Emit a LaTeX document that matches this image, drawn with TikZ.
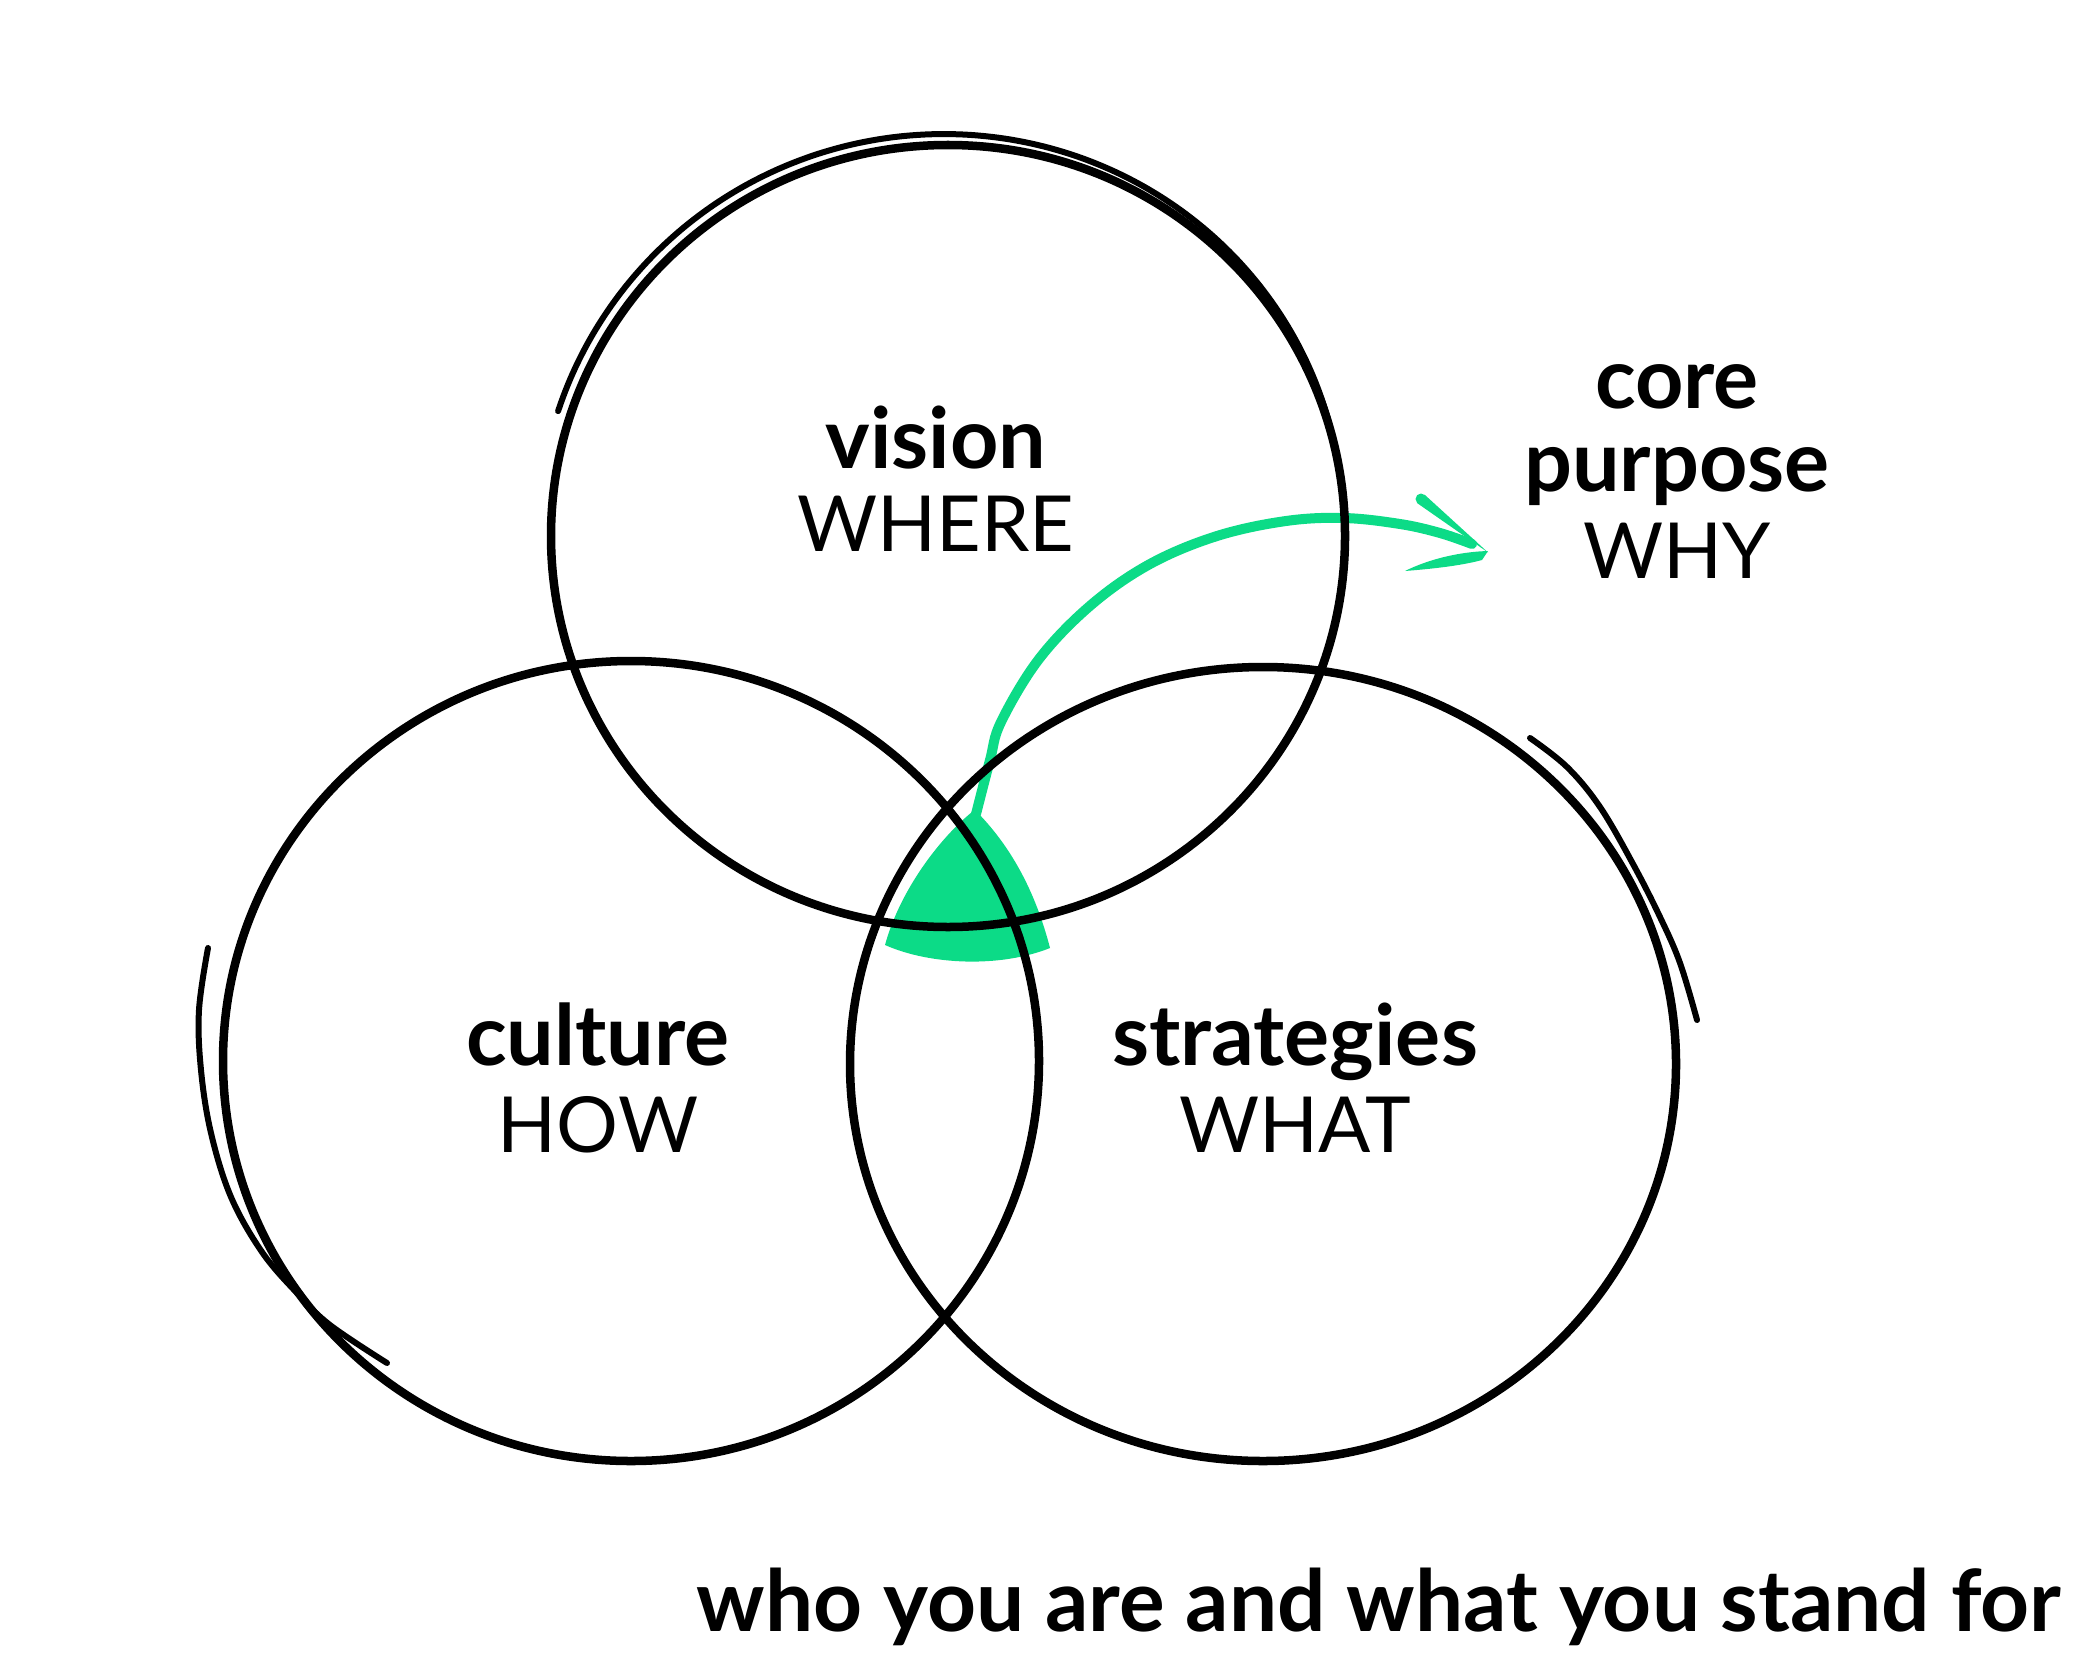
\documentclass[tikz,border=0pt]{standalone}
\usepackage{fontspec}
\setmainfont{Lato}
\newfontfamily\lightf{Lato}
\definecolor{vgreen}{HTML}{0CDB87}
\tikzset{
  ring/.style={draw=black, line width=0.085cm},
  sketch/.style={draw=black, line width=0.06cm, line cap=round},
  greenline/.style={draw=vgreen, line width=0.1cm, line cap=round},
  head/.style={font=\fontsize{24}{29}\selectfont\bfseries, anchor=base, inner sep=0},
  sub/.style={font=\fontsize{22}{27}\selectfont\lightf, anchor=base, inner sep=0},
  tagline/.style={font=\fontsize{24.3}{30}\selectfont\bfseries, anchor=base, inner sep=0},
}
\begin{document}
\begin{tikzpicture}[x=0.01cm,y=-0.01cm]
\useasboundingbox (0,0) rectangle (2083,1667);
% green core
\fill[vgreen] (972,812) .. controls (940,838) and (900,890) .. (885,945)
  .. controls (930,965) and (1000,968) .. (1050,948)
  .. controls (1035,890) and (1010,845) .. (975,810) -- cycle;
% green arrow curve
\draw[greenline] plot[smooth, tension=0.6] coordinates {(976,814) (990,760) (1001,722) (1039,659) (1091,605) (1150,564) (1217,536) (1286,521) (1344,518) (1400,524) (1440,533) (1472,544)};
\fill[vgreen] (1417.4,503.3) -- (1488,552.5) -- (1424.6,494.7) -- cycle;
\fill[vgreen] (1421,499) circle[radius=5.5];
\fill[vgreen] (1488,551) .. controls (1455,552) and (1425,561) .. (1405,571)
  .. controls (1430,569) and (1460,566) .. (1482,560) -- cycle;
% circles
\draw[ring] (948,536) ellipse [x radius=397, y radius=391];
\draw[ring] (631,1061) ellipse [x radius=408, y radius=400];
\draw[ring] (1263,1064) ellipse [x radius=413, y radius=397];
% hand-drawn extra strokes
\draw[sketch] plot[domain=198:348, samples=90, smooth] ({948+(397+13-13*((\x-198)/150)^2.5)*cos(\x)}, {536+(391+13-13*((\x-198)/150)^2.5)*sin(\x)});
\draw[sketch] plot[smooth, tension=0.6] coordinates {(208,948) (199,1010) (201,1070) (211,1133) (231,1197) (262,1252) (297,1293) (330,1325) (387,1363)};
\draw[sketch] plot[smooth, tension=0.6] coordinates {(1530,738) (1567,767) (1600,807) (1633,864) (1660,917) (1680,963) (1697,1020)};
% labels
\node[head] (vision) at (936,468) {vision};
\node[sub] (where) at (936,551) {WHERE};
\node[head] (culture) at (598,1065) {culture};
\node[sub] (how) at (598,1152) {HOW};
\node[head] (strat) at (1295,1065) {strategies};
\node[sub] (what) at (1295,1152) {WHAT};
\node[head] (core) at (1677,408) {core};
\node[head] (purpose) at (1677,491) {purpose};
\node[sub] (why) at (1677,578) {WHY};
\node[tagline] (tag) at (1379,1631) {who you are and what you stand for};
\end{tikzpicture}
\end{document}
